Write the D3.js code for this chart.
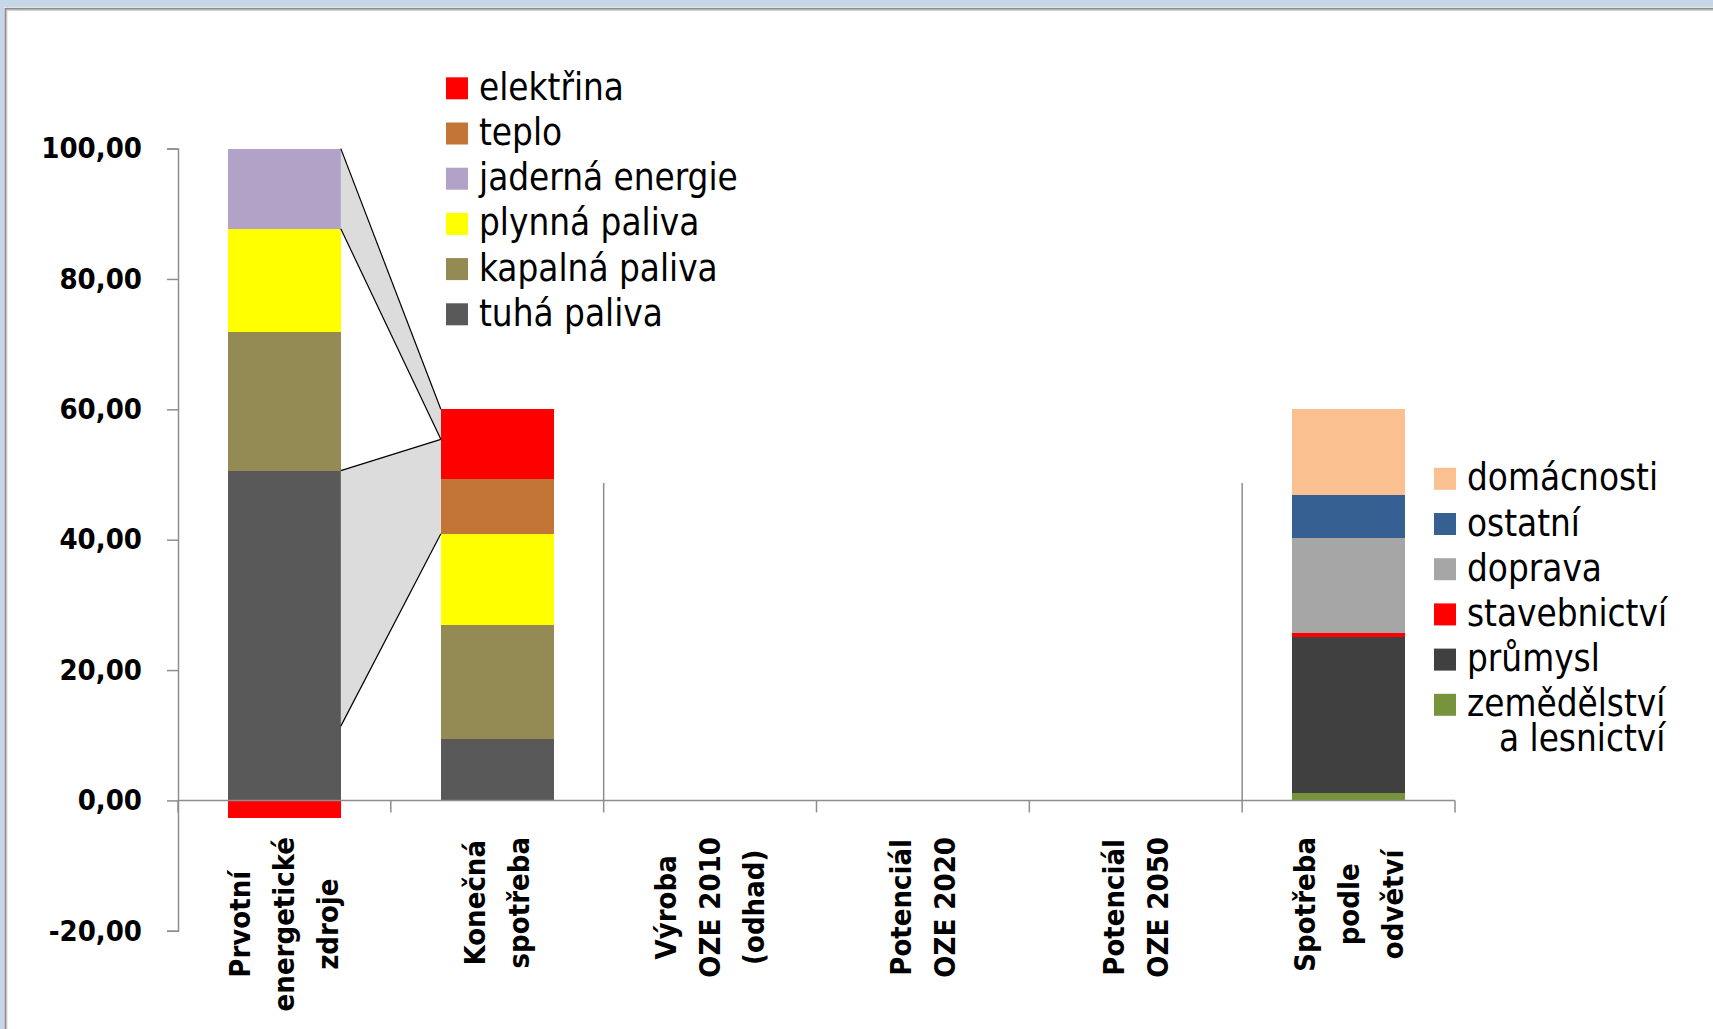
<!DOCTYPE html>
<html>
<head>
<meta charset="utf-8">
<script src="https://cdn.jsdelivr.net/npm/d3@7"></script>
<style>
  html, body { margin: 0; padding: 0; background: #c8d7e7; overflow: hidden; }
  svg { display: block; }
  .cond { font-family: 'DejaVu Sans Condensed', 'DejaVu Sans', sans-serif; font-stretch: condensed; }
</style>
</head>
<body>
<svg id="chart" width="1713" height="1029"></svg>
<script>
// categories on x axis (split into lines as drawn)
const categoryLabels = [
  ['Prvotní', 'energetické', 'zdroje'],
  ['Konečná', 'spotřeba'],
  ['Výroba', 'OZE 2010', '(odhad)'],
  ['Potenciál', 'OZE 2020'],
  ['Potenciál', 'OZE 2050'],
  ['Spotřeba', 'podle', 'odvětví']
];

// energy carriers, bottom to top of the stack
const energyKeys = ['tuhá paliva', 'kapalná paliva', 'plynná paliva', 'jaderná energie', 'teplo', 'elektřina'];
const energyColors = ['#595959', '#948a54', '#ffff00', '#b3a2c7', '#c27536', '#ff0000'];
const primaryValues = [50.6, 21.2, 15.9, 12.3, 0, -2.7];   // Prvotní energetické zdroje
const finalValues = [9.5, 17.4, 14.0, 0, 8.4, 10.7];        // Konečná spotřeba

// sectors, bottom to top
const sectorKeys = ['zemědělství a lesnictví', 'průmysl', 'stavebnictví', 'doprava', 'ostatní', 'domácnosti'];
const sectorColors = ['#77933c', '#404040', '#ff0000', '#a6a6a6', '#376092', '#fac090'];
const sectorValues = [1.15, 23.95, 0.6, 14.6, 6.5, 13.2];   // Spotřeba podle odvětví

// grey connector bands between first two columns: [left top, left bottom] -> [right top, right bottom]
const linkUpperLeft = [100, 87.7];
const linkUpperRight = [60, 55.4];
const linkLowerLeft = [50.6, 11.4];
const linkLowerRight = [55.4, 40.9];

// thin divider lines at category boundaries
const dividerBoundaries = [2, 5];
const dividerTop = 48.7;

const yTicks = [-20, 0, 20, 40, 60, 80, 100];

const svg = d3.select('#chart');
const W = 1713, H = 1029;

// window frame
svg.append('rect').attr('x', 4).attr('y', 7).attr('width', W).attr('height', H).attr('fill', '#fff');
svg.append('path')
  .attr('d', `M5.5,${H} V8.8 H${W}`)
  .attr('fill', 'none').attr('stroke', '#8c8c8c').attr('stroke-width', 2);
svg.append('path')
  .attr('d', `M6.8,${H} V10.2 H${W}`)
  .attr('fill', 'none').attr('stroke', '#c4c4c4').attr('stroke-width', 1);

const left = 178, right = 1455;
const x = d3.scaleBand()
  .domain(d3.range(categoryLabels.length))
  .range([left, right])
  .paddingInner(0.47)
  .paddingOuter(0.235);
const step = x.step();

const y = d3.scaleLinear()
  .domain([-20, 100])
  .range([930.8, 148.6]);

const axisColor = '#8e8e8e';
const g = svg.append('g');

// y axis
const yAxis = d3.axisLeft(y)
  .tickValues(yTicks)
  .tickSize(11)
  .tickPadding(25)
  .tickFormat(d => d3.format('.2f')(d).replace('.', ',').replace('\u2212', '-'));
const ya = g.append('g')
  .attr('transform', `translate(${left},0)`)
  .call(yAxis);
ya.select('.domain').attr('stroke', axisColor).attr('stroke-width', 1.5);
ya.selectAll('.tick line').attr('stroke', axisColor).attr('stroke-width', 1.5);
ya.selectAll('.tick text')
  .attr('class', 'cond')
  .style('font-size', '29px')
  .style('font-weight', 'bold')
  .attr('fill', '#000');

// stacked data
const energyRows = [primaryValues, finalValues].map((vals, i) => {
  let row = { cat: i };
  energyKeys.forEach((k, j) => row[k] = vals[j]);
  return row;
});
const sectorRow = { cat: 5 };
sectorKeys.forEach((k, j) => sectorRow[k] = sectorValues[j]);

const energyStack = d3.stack().keys(energyKeys).offset(d3.stackOffsetDiverging)(energyRows);
const sectorStack = d3.stack().keys(sectorKeys)([sectorRow]);

function drawStack(series, colors) {
  g.append('g')
    .selectAll('g')
    .data(series)
    .enter()
    .append('g')
    .attr('fill', (d, i) => colors[i])
    .selectAll('rect')
    .data(d => d)
    .enter()
    .append('rect')
    .attr('x', d => x(d.data.cat))
    .attr('width', x.bandwidth())
    .attr('y', d => y(Math.max(d[0], d[1])))
    .attr('height', d => Math.abs(y(d[0]) - y(d[1])))
    .attr('shape-rendering', 'crispEdges');
}
drawStack(energyStack, energyColors);
drawStack(sectorStack, sectorColors);

// connector bands
const x1 = x(0) + x.bandwidth();
const x2 = x(1);
[[linkUpperLeft, linkUpperRight], [linkLowerLeft, linkLowerRight]].forEach(([l, r]) => {
  g.append('path')
    .attr('d', `M${x1},${y(l[0])} L${x2},${y(r[0])} L${x2},${y(r[1])} L${x1},${y(l[1])} Z`)
    .attr('fill', '#dcdcdc');
  for (let k = 0; k < 2; k++) {
    g.append('line')
      .attr('x1', x1).attr('y1', y(l[k]))
      .attr('x2', x2).attr('y2', y(r[k]))
      .attr('stroke', '#000').attr('stroke-width', 1.2);
  }
});

// dividers
g.selectAll('.divider')
  .data(dividerBoundaries)
  .enter()
  .append('line')
  .attr('class', 'divider')
  .attr('x1', d => left + d * step).attr('x2', d => left + d * step)
  .attr('y1', y(0)).attr('y2', y(dividerTop))
  .attr('stroke', axisColor).attr('stroke-width', 1.5);

// x axis line with category boundary ticks
g.append('line')
  .attr('x1', left).attr('x2', right)
  .attr('y1', y(0)).attr('y2', y(0))
  .attr('stroke', axisColor).attr('stroke-width', 1.5);
g.selectAll('.xtick')
  .data(d3.range(categoryLabels.length + 1))
  .enter()
  .append('line')
  .attr('x1', d => left + d * step).attr('x2', d => left + d * step)
  .attr('y1', y(0)).attr('y2', y(0) + 12)
  .attr('stroke', axisColor).attr('stroke-width', 1.5);

// category labels, rotated, block top-aligned, lines centered
const labelTop = 837;
const lineGap = 44;
categoryLabels.forEach((lines, i) => {
  const cx = x(i) + x.bandwidth() / 2;
  const lg = g.append('g');
  const texts = lines.map((t, j) => lg.append('text')
    .attr('class', 'cond')
    .style('font-size', '29px')
    .style('font-weight', 'bold')
    .attr('text-anchor', 'middle')
    .attr('dominant-baseline', 'central')
    .text(t));
  const maxLen = d3.max(texts, t => t.node().getComputedTextLength());
  texts.forEach((t, j) => {
    const lx = cx + (j - (lines.length - 1) / 2) * lineGap;
    const ly = labelTop + maxLen / 2;
    t.attr('transform', `translate(${lx},${ly}) rotate(-90)`);
  });
});

// legends
function legend(items, colors, x0, y0, spacing) {
  const lg = g.append('g');
  items.forEach((item, i) => {
    const cy = y0 + i * spacing;
    lg.append('rect')
      .attr('x', x0).attr('y', cy - 11)
      .attr('width', 22).attr('height', 22)
      .attr('fill', colors[i]);
    const lines = item.split('\n');
    const t = lg.append('text')
      .attr('class', 'cond')
      .style('font-size', '36.5px');
    const first = t.append('tspan')
      .attr('x', x0 + 33).attr('y', cy + 11.5)
      .text(lines[0]);
    if (lines.length > 1) {
      const w = first.node().getComputedTextLength();
      t.append('tspan')
        .attr('x', x0 + 33 + w).attr('y', cy + 11.5 + 35)
        .attr('text-anchor', 'end')
        .text(lines[1]);
    }
  });
}
legend(energyKeys.slice().reverse(), energyColors.slice().reverse(), 446, 88.3, 45.2);
const sectorLegend = sectorKeys.slice().reverse().map(k => k.replace(' a ', '\na '));
legend(sectorLegend, sectorColors.slice().reverse(), 1434, 478.8, 45.2);
</script>
</body>
</html>
